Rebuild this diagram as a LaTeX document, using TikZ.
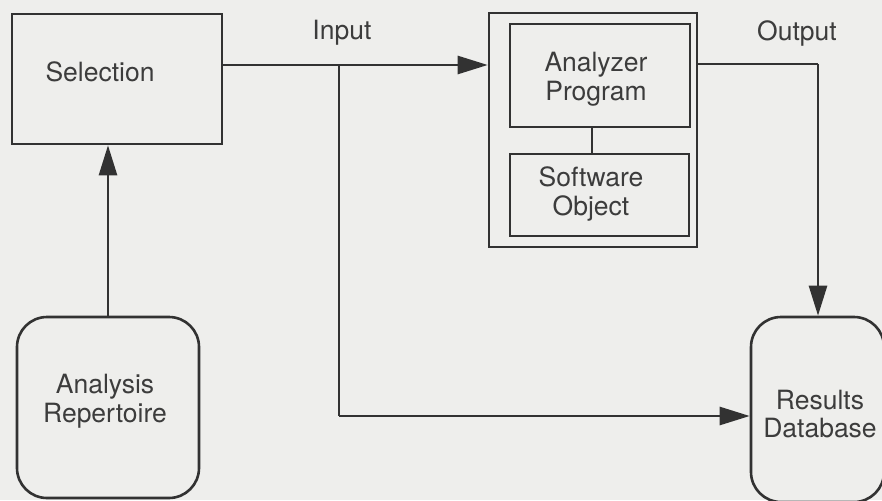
\documentclass[tikz,border=0pt]{standalone}
\usepackage{fontspec}
\setmainfont{TeX Gyre Heros}
\usetikzlibrary{arrows.meta}
\definecolor{bg}{RGB}{238,238,236}
\definecolor{ink}{RGB}{50,50,50}
\definecolor{txt}{RGB}{60,60,60}
\begin{document}
\begin{tikzpicture}[x=1pt,y=-1pt,
  line width=2.6pt, draw=ink,
  box/.style={draw=ink, line width=2.6pt, inner sep=0pt, rectangle},
  rbox/.style={draw=ink, line width=2.6pt, inner sep=0pt, rectangle, rounded corners=30pt},
  lbl/.style={text=txt, align=center, inner sep=0pt, font=\fontsize{26.5}{28.5}\selectfont},
  arr/.style={-{Triangle[length=30pt,width=18pt]}, ink, line width=2.6pt}]
\useasboundingbox (0,0) rectangle (882,500);
\fill[bg] (0,0) rectangle (882,500);
\clip (0,0) rectangle (882,500);

% boxes
\node[box, minimum width=210pt, minimum height=130pt] (sel) at (117,79) {};
\node[lbl] (seltxt) at (100,72) {Selection};

\node[box, minimum width=208pt, minimum height=234pt] (outer) at (593,130) {};
\node[box, minimum width=180pt, minimum height=103pt] (an) at (600,75.5) {};
\node[lbl] (antxt) at (596,79) {Analyzer\\Program};
\node[box, minimum width=179pt, minimum height=82pt] (sw) at (599.5,195) {};
\node[lbl] (swtxt) at (591,194) {Software\\Object};

\node[rbox, minimum width=182pt, minimum height=181pt] (ar) at (108,407.5) {};
\node[lbl] (artxt) at (105,401) {Analysis\\Repertoire};

\node[rbox, minimum width=133pt, minimum height=185pt] (rd) at (817.5,409.5) {};
\node[lbl] (rdtxt) at (820,414) {Results\\Database};

% labels
\node[lbl] (inp) at (342,33) {Input};
\node[lbl] (outp) at (797,33) {Output};

% connector points
\coordinate (j) at (339,65);
\coordinate (jb) at (339,416);
\coordinate (o1) at (818,64);
\coordinate (ca) at (592,0);
\coordinate (va) at (108,0);

% connectors
\draw[arr] (sel.east |- j) -- (outer.west |- j);
\draw (j) -- (jb);
\draw[arr] (jb) -- (rd.west |- jb);
\draw (outer.east |- o1) -- (o1);
\draw[arr] (o1) -- (rd.north -| o1);
\draw (an.south -| ca) -- (sw.north -| ca);
\draw[arr] (ar.north -| va) -- (sel.south -| va);
\end{tikzpicture}
\end{document}
